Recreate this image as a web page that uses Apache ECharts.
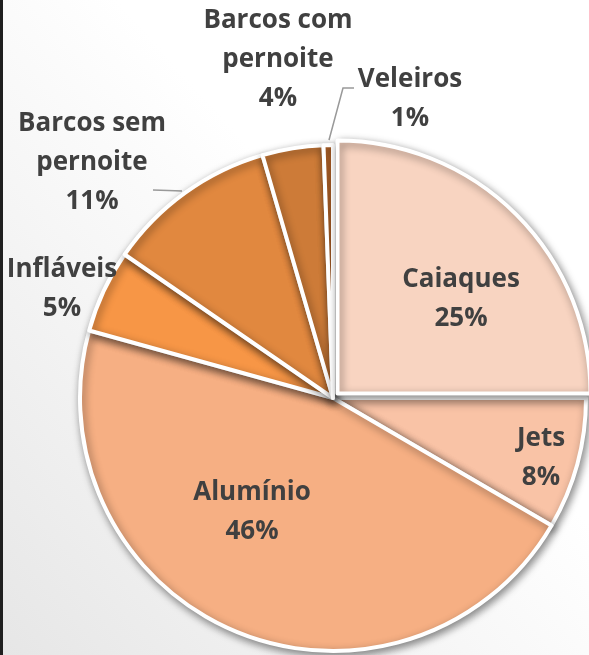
<!DOCTYPE html>
<html>
<head>
<meta charset="utf-8">
<script src="https://cdn.jsdelivr.net/npm/echarts@6/dist/echarts.min.js"></script>
<style>
  html, body { margin: 0; padding: 0; }
  #chart {
    width: 589px;
    height: 655px;
    background:
      linear-gradient(to right, #1f1f1f 0, #1f1f1f 3px, transparent 3px),
      linear-gradient(to top right, #e6e6e6 0%, #f5f5f5 35%, #ffffff 60%);
  }
</style>
</head>
<body>
<div id="chart"></div>
<script>
// dados do gráfico
const categorias = ['Caiaques', 'Jets', 'Alumínio', 'Infláveis', 'Barcos sem pernoite', 'Barcos com pernoite', 'Veleiros']
const valores = [25.0, 8.4, 45.9, 5.3, 10.9, 3.9, 0.6]
const cores = ['#F8D4C1', '#F9C3A6', '#F6AF83', '#F79646', '#E1883F', '#CD7B38', '#BE6A2C']

// posição dos rótulos (centro do bloco de texto)
const posRotulos = [[461, 299], [541, 458], [252, 512], [62, 289], [92, 163], [278, 60], [410, 99]]
const linhas = {
  4: [[182, 191], [168, 190.5], [153, 190]],
  6: [[329, 140], [343, 88], [354, 88]]
}
const dentro = [true, true, true, false, false, false, false]
const destaque = 0 // fatia "explodida" (Caiaques)

const myChart = echarts.init(document.getElementById('chart'))

const estiloFatia = {
  borderColor: '#fff',
  borderWidth: 4,
  shadowBlur: 9,
  shadowOffsetX: 2,
  shadowOffsetY: 3,
  shadowColor: 'rgba(0,0,0,0.45)'
}
const invisivel = { color: 'rgba(0,0,0,0)', borderWidth: 0, shadowBlur: 0, shadowColor: 'rgba(0,0,0,0)' }

const baseSerie = {
  type: 'pie',
  radius: 253,
  startAngle: 90,
  clockwise: true,
  percentPrecision: 0,
  avoidLabelOverlap: false,
  silent: true,
  itemStyle: estiloFatia,
  label: {
    show: true,
    formatter: (p) => p.name.replace(' pernoite', '\npernoite') + '\n' + p.percent + '%',
    color: '#404040',
    fontFamily: 'Open Sans',
    fontWeight: 'bold',
    fontSize: 26,
    lineHeight: 39,
    align: 'center',
    overflow: 'none'
  },
  labelLine: {
    show: true,
    lineStyle: { color: '#999999', width: 1.5 }
  },
  labelLayout: (params) => {
    const i = params.dataIndex
    const res = {
      x: posRotulos[i][0],
      y: posRotulos[i][1],
      align: 'center',
      verticalAlign: 'middle',
      hideOverlap: false
    }
    if (linhas[i]) res.labelLinePoints = linhas[i]
    return res
  }
}

const option = {
  backgroundColor: 'transparent',
  animation: false,
  series: [
    // todas as fatias menos a destacada
    Object.assign({}, baseSerie, {
      center: [333, 398],
      data: categorias.map((nome, i) => ({
        name: nome,
        value: valores[i],
        itemStyle: i === destaque ? invisivel : { color: cores[i] },
        label: { show: i !== destaque, position: dentro[i] ? 'inside' : 'outside' },
        labelLine: { show: !!linhas[i] }
      }))
    }),
    // fatia destacada, deslocada ~6px para fora
    Object.assign({}, baseSerie, {
      center: [337.5, 393.5],
      data: categorias.map((nome, i) => ({
        name: nome,
        value: valores[i],
        itemStyle: i === destaque ? { color: cores[i] } : invisivel,
        label: { show: i === destaque, position: 'inside' },
        labelLine: { show: false }
      }))
    })
  ]
}

myChart.setOption(option)
</script>
</body>
</html>
